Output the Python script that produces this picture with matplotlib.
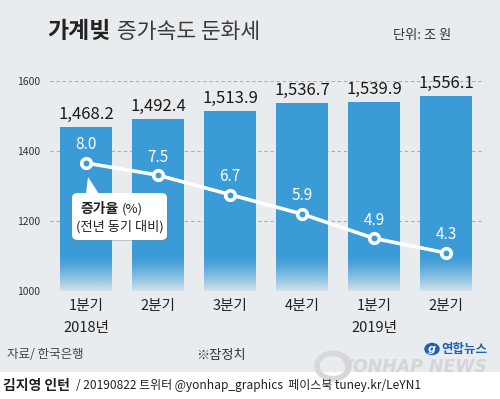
import matplotlib
matplotlib.use("Agg")
import matplotlib.pyplot as plt
import numpy as np
from matplotlib.patches import Rectangle, FancyBboxPatch, Polygon, Circle

plt.rcParams['font.family'] = ['Noto Sans CJK KR', 'DejaVu Sans']

# data
quarters = ['1분기', '2분기', '3분기', '4분기', '1분기', '2분기']
years = ['2018년', '', '', '', '2019년', '']
debt = [1468.2, 1492.4, 1513.9, 1536.7, 1539.9, 1556.1]
growth = [8.0, 7.5, 6.7, 5.9, 4.9, 4.3]
yticks = [1000, 1200, 1400, 1600]

bg = '#e9ecef'
blue = '#3b9bd6'
W, H = 500, 399

def px(x, y):
    return (x / W, 1 - y / H)

fig = plt.figure(figsize=(5, 3.99), dpi=100)
fig.patch.set_facecolor(bg)

ax = fig.add_axes([50 / W, 1 - 291 / H, 432 / W, 210 / H])
ax.set_facecolor('none')
x = np.arange(len(debt))
ax.bar(x, [d - 1000 for d in debt], bottom=1000, width=52 / 72, color=blue, zorder=2)
for t in yticks:
    ax.axhline(t, color='#a9adb1', lw=0.8, ls=(0, (3, 2.5)), zorder=1 if t > 1000 else 4)
ax.set_yticks(yticks)
ax.set_yticklabels([str(t) for t in yticks], fontsize=7.5, color='#333333')
ax.tick_params(axis='y', length=0, pad=7)
ax.set_xticks([])
for s in ax.spines.values():
    s.set_visible(False)

# fade bars into background at the bottom
grad = np.zeros((100, 2, 4))
grad[..., :3] = matplotlib.colors.to_rgb(bg)
grad[..., 3] = (np.linspace(1, 0, 100) ** 1.3 * 0.88)[:, None]
ax.imshow(grad, extent=(-0.5, 5.5, 1000, 1100), aspect='auto', zorder=3, origin='lower')
ax.set_xlim(-0.5, 5.5)
ax.set_ylim(1000, 1600)

for xi, d in zip(x, debt):
    ax.annotate(f'{d:,.1f}', (xi, d), xytext=(0, 9), textcoords='offset points',
                ha='center', va='center', fontsize=12, fontweight='medium', color='#1a1a1a',
                annotation_clip=False)

for xi, (q, yr) in enumerate(zip(quarters, years)):
    ax.annotate(q, (xi, 1000), xytext=(0, -11), textcoords='offset points', ha='center',
                va='center', fontsize=10.5, color='#222222', annotation_clip=False)
    if yr:
        ax.annotate(yr, (xi, 1000), xytext=(0, -26.5), textcoords='offset points', ha='center',
                    va='center', fontsize=10.5, color='#222222', annotation_clip=False)

ax2 = ax.twinx()
ax2.set_ylim(2.733, 11.374)
ax2.axis('off')
ax2.plot(x, growth, color='white', lw=2.6, marker='o', ms=6.9, mfc=blue, mec='white',
         mew=2.6, zorder=5)
for xi, g in zip(x, growth):
    ax2.annotate(f'{g:.1f}', (xi, g), xytext=(0, 13), textcoords='offset points',
                 ha='center', va='center', fontsize=11, fontweight='medium', color='white')

# callout box
shadow = FancyBboxPatch(px(73, 241), 95 / W, 47 / H, boxstyle='round,pad=0,rounding_size=0.012',
                        transform=fig.transFigure, fc='#6a7f90', ec='none', alpha=0.35, zorder=6)
fig.patches.append(shadow)
box = FancyBboxPatch(px(72, 240), 95 / W, 47 / H, boxstyle='round,pad=0,rounding_size=0.012',
                     transform=fig.transFigure, fc='white', ec='none', zorder=7)
fig.patches.append(box)
tail = Polygon([px(86, 194), px(99, 194), px(88, 177)], closed=True, transform=fig.transFigure,
               fc='white', ec='none', zorder=7)
fig.patches.append(tail)
fig.text(*px(119, 209), '증가율', ha='right', va='center', fontsize=10, fontweight='bold',
         color='#222222', zorder=8)
fig.text(*px(122, 209), '(%)', ha='left', va='center', fontsize=9.5, color='#222222', zorder=8)
fig.text(*px(120, 227), '(전년 동기 대비)', ha='center', va='center', fontsize=9.5,
         color='#222222', zorder=8)

# title
fig.text(*px(47, 32), '가계빚', ha='left', va='center', fontsize=16.5, fontweight='bold',
         color='#222222')
fig.text(*px(117, 32), '증가속도 둔화세', ha='left', va='center', fontsize=15.5,
         color='#3a3a3a')
fig.text(*px(393, 36), '단위: 조 원', ha='left', va='center', fontsize=9.5, color='#333333')

# footer
fig.text(*px(7, 355), '자료/ 한국은행', ha='left', va='center', fontsize=9, color='#444444',
         style='italic')
fig.text(*px(196, 355), '※잠정치', ha='left', va='center', fontsize=9.5, color='#333333')

fig.patches.append(Rectangle((0, 0), 1, 1 - 372 / H, transform=fig.transFigure, fc='white',
                             ec='none', zorder=0))
fig.patches.append(Circle(px(333, 366), 0.032, transform=fig.transFigure, fc='none',
                          ec='#d6d8da', lw=4, zorder=1))
fig.text(*px(414, 367), 'YONHAP NEWS', ha='center', va='center', fontsize=12.5,
         fontweight='bold', style='italic', color='#d3d5d8', family='DejaVu Sans')
fig.patches.append(Circle(px(432, 349), 0.0155, transform=fig.transFigure, fc='#1f62b5',
                          ec='none', zorder=2))
fig.text(*px(432, 349), 'g', ha='center', va='center', fontsize=8, color='white',
         style='italic', fontweight='bold', family='DejaVu Sans')
fig.text(*px(441, 349), '연합뉴스', ha='left', va='center', fontsize=9, fontweight='bold',
         color='#1f62b5')

fig.text(*px(3, 386), '김지영 인턴', ha='left', va='center', fontsize=10, fontweight='bold',
         color='#222222')
fig.text(*px(76, 386), '/ 20190822 트위터 @yonhap_graphics  페이스북 tuney.kr/LeYN1',
         ha='left', va='center', fontsize=8.6, color='#222222')

fig.savefig('out.png', dpi=100, facecolor=bg)
